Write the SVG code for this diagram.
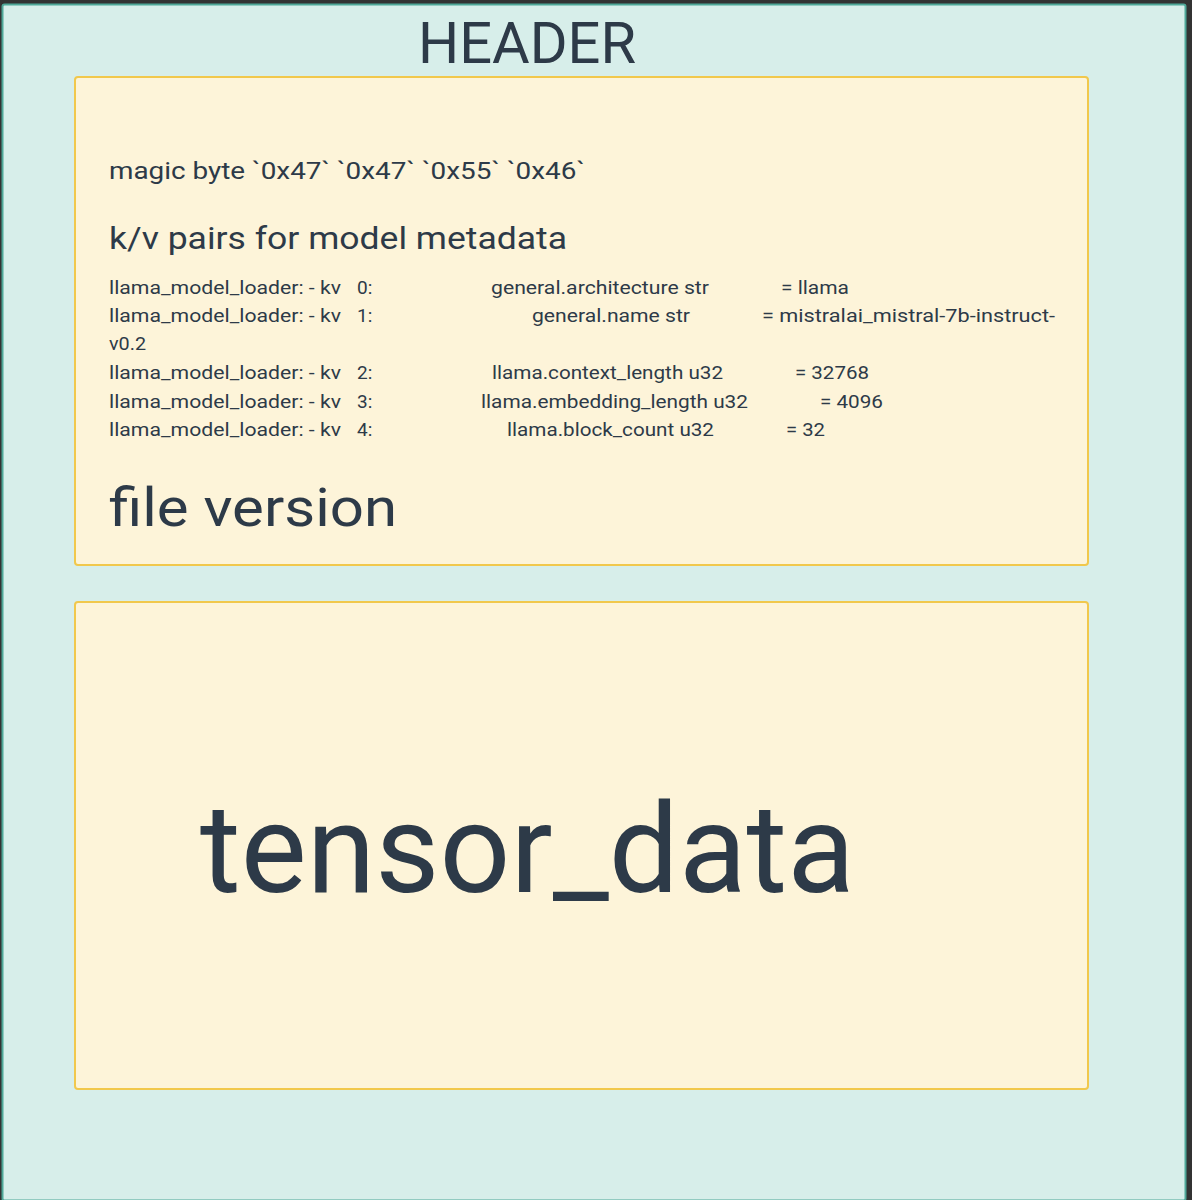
<svg xmlns="http://www.w3.org/2000/svg" width="1192" height="1200" viewBox="0 0 1192 1200">
<style>
.t{font-family:"Roboto","Liberation Sans",sans-serif;fill:#2d3a48}
.s{font-size:19px}
.box{fill:#fdf4d9;stroke:#f1c84c;stroke-width:2}
</style>
<rect x="0" y="0" width="1192" height="1200" fill="#333333"/>
<g id="outer">
<rect x="2.5" y="4.5" width="1183" height="1196" rx="2" fill="#d7eeea" stroke="#4fa898" stroke-width="2"/>
<text class="t" x="418" y="63" font-size="58" textLength="218" lengthAdjust="spacingAndGlyphs">HEADER</text>
</g>
<g id="header-box">
<rect class="box" x="75" y="77" width="1013" height="488" rx="3"/>
<text class="t" x="109" y="179" font-size="24" textLength="476" lengthAdjust="spacingAndGlyphs">magic byte `0x47` `0x47` `0x55` `0x46`</text>
<text class="t" x="109" y="249" font-size="32" textLength="458" lengthAdjust="spacingAndGlyphs">k/v pairs for model metadata</text>
<g class="t s">
<text x="109" y="294" textLength="232" lengthAdjust="spacingAndGlyphs">llama_model_loader: - kv</text>
<text x="357" y="294">0:</text>
<text x="491" y="294" textLength="218" lengthAdjust="spacingAndGlyphs">general.architecture str</text>
<text x="781" y="294" textLength="68" lengthAdjust="spacingAndGlyphs">= llama</text>
<text x="109" y="322" textLength="232" lengthAdjust="spacingAndGlyphs">llama_model_loader: - kv</text>
<text x="357" y="322">1:</text>
<text x="532" y="322" textLength="158" lengthAdjust="spacingAndGlyphs">general.name str</text>
<text x="762" y="322" textLength="293" lengthAdjust="spacingAndGlyphs">= mistralai_mistral-7b-instruct-</text>
<text x="109" y="350" textLength="37" lengthAdjust="spacingAndGlyphs">v0.2</text>
<text x="109" y="379" textLength="232" lengthAdjust="spacingAndGlyphs">llama_model_loader: - kv</text>
<text x="357" y="379">2:</text>
<text x="492" y="379" textLength="231" lengthAdjust="spacingAndGlyphs">llama.context_length u32</text>
<text x="795" y="379" textLength="74" lengthAdjust="spacingAndGlyphs">= 32768</text>
<text x="109" y="408" textLength="232" lengthAdjust="spacingAndGlyphs">llama_model_loader: - kv</text>
<text x="357" y="408">3:</text>
<text x="481" y="408" textLength="267" lengthAdjust="spacingAndGlyphs">llama.embedding_length u32</text>
<text x="820" y="408" textLength="63" lengthAdjust="spacingAndGlyphs">= 4096</text>
<text x="109" y="436" textLength="232" lengthAdjust="spacingAndGlyphs">llama_model_loader: - kv</text>
<text x="357" y="436">4:</text>
<text x="507" y="436" textLength="207" lengthAdjust="spacingAndGlyphs">llama.block_count u32</text>
<text x="786" y="436" textLength="39" lengthAdjust="spacingAndGlyphs">= 32</text>
</g>
<text class="t" x="109" y="526" font-size="54" textLength="288" lengthAdjust="spacingAndGlyphs">file version</text>
</g>
<g id="tensor-box">
<rect class="box" x="75" y="602" width="1013" height="487" rx="3"/>
<text class="t" x="200" y="892" font-size="124" textLength="655" lengthAdjust="spacingAndGlyphs">tensor_data</text>
</g>
<g id="connectors"></g>
</svg>
